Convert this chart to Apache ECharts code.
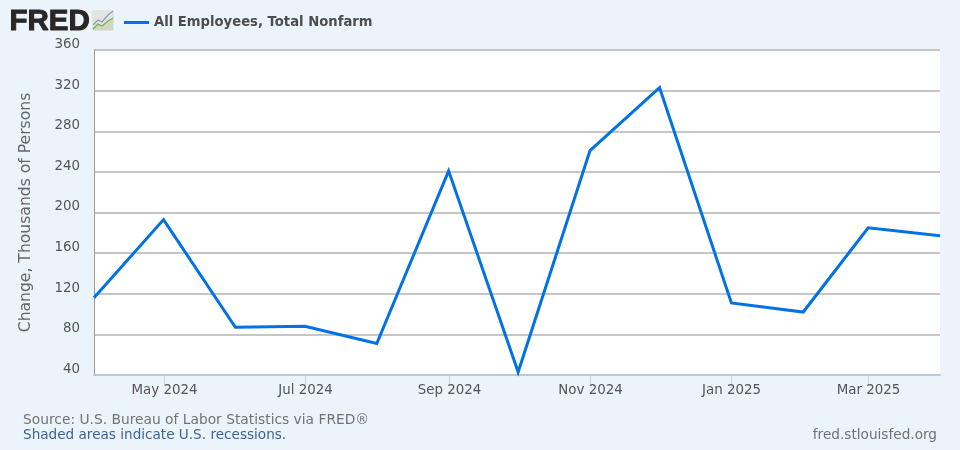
<!DOCTYPE html>
<html><head><meta charset="utf-8">
<style>html,body{margin:0;padding:0;background:#ebf3fb}#c{width:960px;height:450px}</style>
<script src="https://cdn.jsdelivr.net/npm/echarts@6/dist/echarts.min.js"></script>
</head><body><div id="c"></div>
<script>
const dates = ['2024-04-01','2024-05-01','2024-06-01','2024-07-01','2024-08-01','2024-09-01','2024-10-01','2024-11-01','2024-12-01','2025-01-01','2025-02-01','2025-03-01','2025-04-01'];
const values = [116,193,87,88,71,241,43,261,323,111,102,185,177];
const xTicks = ['2024-05-01','2024-07-01','2024-09-01','2024-11-01','2025-01-01','2025-03-01'];
const seriesName = 'All Employees, Total Nonfarm';
const yTitle = 'Change, Thousands of Persons';
const source = 'Source: U.S. Bureau of Labor Statistics via FRED®';
const note = 'Shaded areas indicate U.S. recessions.';
const site = 'fred.stlouisfed.org';
const font = '"DejaVu Sans", Verdana, sans-serif';
const monthNames = ['Jan','Feb','Mar','Apr','May','Jun','Jul','Aug','Sep','Oct','Nov','Dec'];
const chart = echarts.init(document.getElementById('c'), null, {renderer:'canvas'});
chart.setOption({
  animation:false,
  backgroundColor:'#ebf3fb',
  grid:{left:94,right:20,top:50,bottom:75,backgroundColor:'#ffffff',show:true,borderWidth:0},
  legend:{show:true,left:119,top:11,itemWidth:25,itemHeight:3,itemGap:4,icon:'rect',
    data:[seriesName],
    textStyle:{fontFamily:font,fontSize:13.2,fontWeight:'bold',color:'#4d4d4d'}},
  xAxis:{type:'time',min:dates[0],max:dates[dates.length-1],
    axisLine:{show:true,lineStyle:{color:'#c0c8d4',width:2}},
    axisTick:{show:false},splitLine:{show:false},
    axisLabel:{show:false}},
  yAxis:{type:'value',min:40,max:360,interval:40,
    name:yTitle,nameLocation:'middle',nameGap:60,nameRotate:90,
    nameTextStyle:{fontFamily:font,fontSize:15.6,color:'#666666'},
    axisLine:{show:true,onZero:false,lineStyle:{color:'#999999',width:1}},
    axisTick:{show:false},
    splitLine:{show:true,lineStyle:{color:'#c6c6c6',width:2}},
    axisLabel:{margin:14,fontFamily:font,fontSize:13.4,color:'#555555',verticalAlign:'bottom',lineHeight:11}},
  series:[{
    name:seriesName,type:'line',showSymbol:false,symbol:'none',
    data:dates.map((d,i)=>[d,values[i]]),
    lineStyle:{color:'#0072e5',width:3,join:'miter'},
    itemStyle:{color:'#0072e5'},clip:false,z:5
  }],
  graphic:[
    {type:'text',left:9,top:6,style:{text:'FRED',font:'900 29.5px "Liberation Sans", Arial, sans-serif',fill:'#2b2626',stroke:'#2b2626',lineWidth:1}},
    {type:'rect',shape:{x:92,y:10,width:22,height:21,r:2},style:{fill:'#e2e4de'}},
    {type:'polygon',shape:{points:[[93,29],[98,24],[102,26],[108,21],[113,18],[113,30],[93,30]]},style:{fill:'#cfd6c4'}},
    {type:'polyline',shape:{points:[[93,25],[98,20],[102,22],[108,15],[113,11]]},style:{stroke:'#7f9fc0',fill:'none',lineWidth:1.2}},
    {type:'polyline',shape:{points:[[93,29],[98,24],[102,26],[108,21],[113,18]]},style:{stroke:'#86a850',fill:'none',lineWidth:1.2}},
    {type:'text',left:23,top:413,style:{text:source,font:'13.8px '+font,fill:'#737373'}},
    {type:'text',left:23,top:428,style:{text:note,font:'13.6px '+font,fill:'#3c6499'}},
    {type:'text',right:23,top:428,style:{text:site,font:'13.65px '+font,fill:'#737373'}}
  ]
});
const tickGraphics = xTicks.map(d=>{
  const px = Math.round(chart.convertToPixel({xAxisIndex:0},d))+0.5;
  const t = new Date(d+'T00:00:00Z');
  return [
    {type:'line',shape:{x1:px,y1:376,x2:px,y2:385},style:{stroke:'#c6d3e8',lineWidth:1}},
    {type:'text',x:px,y:384,style:{text:monthNames[t.getUTCMonth()]+' '+t.getUTCFullYear(),font:'13.4px '+font,fill:'#555555',align:'center',verticalAlign:'top'}}
  ];
}).flat();
chart.setOption({graphic:chart.getOption().graphic[0].elements.concat(tickGraphics)});
</script></body></html>
